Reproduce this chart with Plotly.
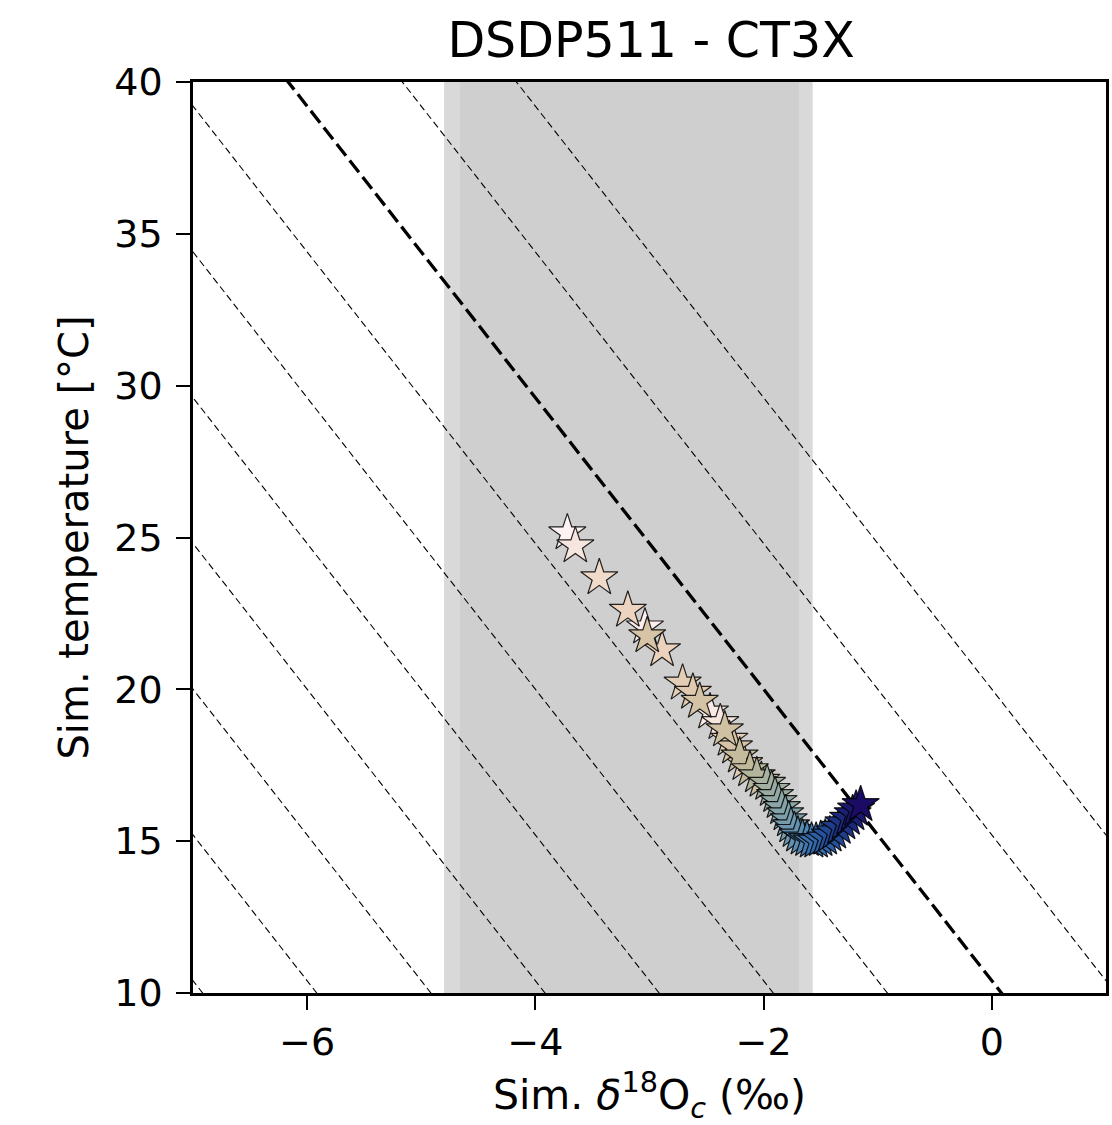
import plotly.graph_objects as go

# ---- data ----
d18o_c = [-3.72, -3.04, -2.47, -2.38, -3.65, -3.44, -3.19, -2.89, -2.30, -2.71,
          -2.17, -2.62, -3.02, -2.26, -2.56, -2.34, -2.02, -2.21, -2.12, -2.06,
          -1.97, -1.93, -1.90, -1.87, -1.84, -1.81, -1.78, -1.76, -1.73, -1.70,
          -1.66, -1.62, -1.58, -1.54, -1.50, -1.46, -1.42, -1.38, -1.34, -1.30,
          -1.26, -1.22, -1.19, -1.15]
temp = [25.15, 22.05, 19.25, 18.90, 24.72, 23.67, 22.60, 21.30, 18.35, 20.20,
        17.55, 19.90, 21.76, 18.10, 19.60, 18.66, 17.00, 17.80, 17.35, 17.15,
        16.90, 16.70, 16.50, 16.30, 16.10, 15.90, 15.70, 15.50, 15.35, 15.20,
        15.10, 15.05, 15.00, 15.00, 15.05, 15.10, 15.20, 15.30, 15.45, 15.60,
        15.75, 15.90, 16.05, 16.20]
color_val = [1.00, 0.99, 0.97, 0.96, 0.96, 0.92, 0.90, 0.89, 0.87, 0.86,
             0.85, 0.84, 0.80, 0.80, 0.79, 0.77, 0.75, 0.72, 0.70, 0.66,
             0.62, 0.60, 0.58, 0.56, 0.54, 0.52, 0.50, 0.48, 0.45, 0.42,
             0.40, 0.37, 0.34, 0.31, 0.28, 0.25, 0.22, 0.19, 0.16, 0.13,
             0.10, 0.07, 0.04, 0.00]

# seawater d18O (SMOW) iso-lines; the thick one is highlighted
dw_thin = [-8, -7, -6, -5, -4, -3, -2, 0, 1]
dw_thick = -1

band_outer = [-4.80, -1.57]
band_inner = [-4.66, -1.69]

x_ticks = [-6, -4, -2, 0]
y_ticks = [10, 15, 20, 25, 30, 35, 40]

lapaz = [
    [0.0, "rgb(26,12,100)"], [0.1, "rgb(28,40,125)"], [0.2, "rgb(35,75,150)"],
    [0.3, "rgb(55,110,175)"], [0.4, "rgb(90,140,178)"], [0.5, "rgb(125,160,170)"],
    [0.6, "rgb(160,175,160)"], [0.7, "rgb(192,186,155)"], [0.8, "rgb(215,196,166)"],
    [0.9, "rgb(236,212,192)"], [1.0, "rgb(254,242,243)"],
]


def iso_line(dw):
    # T = 16.5 - 4.8 (d18Oc - (d18Ow - 0.27))
    ts = [0, 50]
    xs = [(16.5 - t) / 4.8 + dw - 0.27 for t in ts]
    return xs, ts


fig = go.Figure()

fig.add_shape(type="rect", xref="x", yref="paper", x0=band_outer[0], x1=band_outer[1],
              y0=0, y1=1, fillcolor="rgb(217,217,217)", line_width=0, layer="below")
fig.add_shape(type="rect", xref="x", yref="paper", x0=band_inner[0], x1=band_inner[1],
              y0=0, y1=1, fillcolor="rgb(207,207,207)", line_width=0, layer="below")

for dw in dw_thin:
    xs, ts = iso_line(dw)
    fig.add_trace(go.Scatter(x=xs, y=ts, mode="lines",
                             line=dict(color="black", width=1.1, dash="7px,4px"),
                             showlegend=False, hoverinfo="skip"))
xs, ts = iso_line(dw_thick)
fig.add_trace(go.Scatter(x=xs, y=ts, mode="lines",
                         line=dict(color="black", width=3.3, dash="15px,6px"),
                         showlegend=False, hoverinfo="skip"))

fig.add_trace(go.Scatter(
    x=d18o_c, y=temp, mode="markers", showlegend=False,
    marker=dict(symbol="star", size=28, color=color_val, colorscale=lapaz,
                cmin=0, cmax=1, line=dict(color="rgba(0,0,0,0.85)", width=1.2)),
))

fig.update_layout(
    width=1112, height=1125,
    margin=dict(l=193, r=3, t=82, b=132),
    plot_bgcolor="white", paper_bgcolor="white",
    font=dict(family="DejaVu Sans", color="black", size=38),
    title=dict(text="DSDP511 - CT3X", x=0.5855, xanchor="center",
               y=1 - 40 / 1125, yref="container", yanchor="middle",
               font=dict(size=49, family="DejaVu Sans")),
)
fig.update_xaxes(
    range=[-7, 1], tickvals=x_ticks,
    ticktext=["\u2212" + str(-v) if v < 0 else str(v) for v in x_ticks],
    showgrid=False, zeroline=False, showline=True, linecolor="black", linewidth=2.5,
    mirror=True, ticks="outside", ticklen=14, tickwidth=2, tickcolor="black",
    tickfont=dict(size=38),
    title=dict(text="Sim. <i>δ</i><sup>18</sup>O<sub><i>c</i></sub> (‰)", standoff=22,
               font=dict(size=41)),
)
fig.update_yaxes(
    range=[10, 40], tickvals=y_ticks,
    showgrid=False, zeroline=False, showline=True, linecolor="black", linewidth=2.5,
    mirror=True, ticks="outside", ticklen=14, tickwidth=2, tickcolor="black",
    tickfont=dict(size=38), ticklabelstandoff=6,
    title=dict(text="Sim. temperature [°C]", standoff=14, font=dict(size=40)),
)

fig.write_html("out.html")
